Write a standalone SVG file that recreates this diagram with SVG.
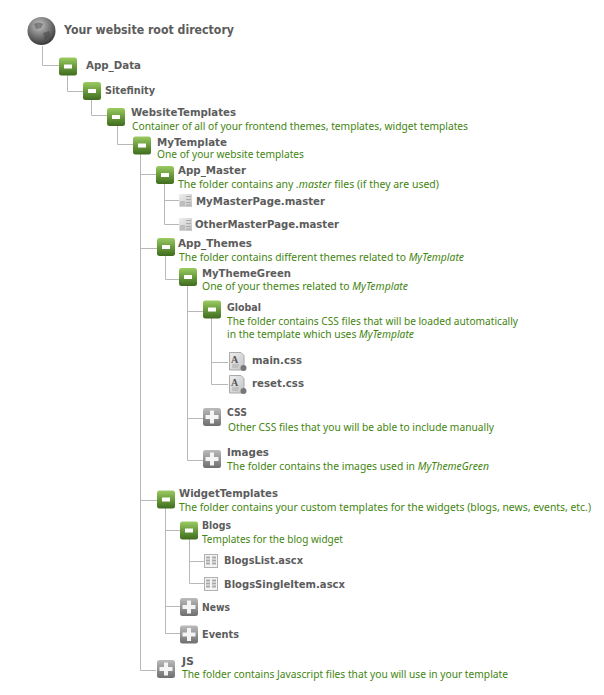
<svg xmlns="http://www.w3.org/2000/svg" width="604" height="695" viewBox="0 0 604 695">
<style>
.l{font-family:"DejaVu Sans","Liberation Sans",sans-serif;font-weight:bold;font-size:10.5px;fill:#5c5c5c}
.d{font-family:"Noto Sans","Liberation Sans",sans-serif;font-size:10px;fill:#438510}
.d tspan{font-style:italic}
#c path{fill:none;stroke:#b8b8b8;stroke-width:1}
</style>
<defs>
<linearGradient id="gg" x1="0" y1="0" x2="0" y2="1"><stop offset="0" stop-color="#9ccb62"/><stop offset=".45" stop-color="#6ea040"/><stop offset="1" stop-color="#3f6c1e"/></linearGradient>
<linearGradient id="gy" x1="0" y1="0" x2="0" y2="1"><stop offset="0" stop-color="#bbb"/><stop offset="1" stop-color="#6e6e6e"/></linearGradient>
<linearGradient id="gm" x1="0" y1="0" x2="1" y2="1"><stop offset="0" stop-color="#eee"/><stop offset="1" stop-color="#c4c4c4"/></linearGradient>
<radialGradient id="gl" cx=".42" cy=".3" r=".78"><stop offset="0" stop-color="#c4c4c4"/><stop offset=".5" stop-color="#777"/><stop offset="1" stop-color="#2a2a2a"/></radialGradient>
<g id="minus"><rect width="18" height="18" rx="2.5" fill="url(#gg)"/><rect x="5" y="7" width="8" height="4" fill="#fff"/></g>
<g id="plus"><rect width="18" height="18" rx="2.500" fill="url(#gy)"/><path d="M7 2.500h4v4.500h4.500v4H11v4.500H7V11H2.500V7H7z" fill="#f4f4f4"/></g>
<g id="master"><rect width="13" height="13" fill="url(#gm)"/><path d="M7 2.500h5M7 5.500h5M7 8.500h5M7 11h5" stroke="#aaa"/><rect x="1" y="7" width="5" height="5" fill="#bdbdbd"/></g>
<g id="ascx"><rect x=".5" y=".5" width="13" height="13" fill="#f4f4f4" stroke="#b0b0b0"/><path d="M2 3.500h4M2 6.500h4M2 9.500h4M8 3.500h4M8 6.500h4M8 9.500h4" stroke="#aaa" stroke-width="2"/></g>
<g id="css"><path d="M1.500.500H13l3 3V18H1.500z" fill="url(#gm)" stroke="#aaa"/><text x="3" y="11" font-family="Liberation Serif,serif" font-size="10" font-weight="bold" fill="#555">A</text><path d="M4 13h7M4 15h6" stroke="#aaa"/><circle cx="15.500" cy="16" r="3" fill="#777"/></g>
</defs>

<g id="c">
<path d="M42.500 46V65.500H59"/>
<path d="M67.500 75V91.500H83"/>
<path d="M91.500 100V115.500H107"/>
<path d="M117.500 126V144.500H133"/>
<path d="M140.500 154V670.500H156M140.500 174.500H156M140.500 248.500H157M140.500 500.500H157"/>
<path d="M164.500 184V224.500H179M164.500 200.500H179"/>
<path d="M165.500 256V279.500H179"/>
<path d="M187.500 286V460.500H203M187.500 311.500H203M187.500 418.500H203"/>
<path d="M211.500 318V384.500H228M211.500 362.500H228"/>
<path d="M165.500 508V633.500H180M165.500 530.500H180M165.500 606.500H180"/>
<path d="M189.500 539V583.500H204M189.500 561.500H204"/>
</g>

<g id="root"><circle cx="41.500" cy="31" r="14" fill="url(#gl)"/><path d="M34 24q5-3 9 0l-2 4-5 1zM43 33l6-2 1 4-5 5z" fill="#444" opacity=".5"/><text class="l" x="64" y="34" textLength="170" lengthAdjust="spacingAndGlyphs" style="font-size:12px">Your website root directory</text></g>
<g id="app-data"><use href="#minus" x="59" y="57.500"/><text class="l" x="86" y="69" textLength="55" lengthAdjust="spacingAndGlyphs">App_Data</text></g>
<g id="sitefinity"><use href="#minus" x="83" y="82"/><text class="l" x="105" y="94" textLength="50" lengthAdjust="spacingAndGlyphs">Sitefinity</text></g>
<g id="websitetemplates"><use href="#minus" x="107" y="108"/><text class="l" x="131" y="116" textLength="105" lengthAdjust="spacingAndGlyphs">WebsiteTemplates</text><text class="d" x="132" y="130" textLength="336" lengthAdjust="spacingAndGlyphs">Container of all of your frontend themes, templates, widget templates</text></g>
<g id="mytemplate"><use href="#minus" x="133" y="136.500"/><text class="l" x="157" y="145.500" textLength="70" lengthAdjust="spacingAndGlyphs">MyTemplate</text><text class="d" x="157" y="158" textLength="147" lengthAdjust="spacingAndGlyphs">One of your website templates</text></g>
<g id="app-master"><use href="#minus" x="156" y="166"/><text class="l" x="178" y="174" textLength="68" lengthAdjust="spacingAndGlyphs">App_Master</text><text class="d" x="178" y="188" textLength="261" lengthAdjust="spacingAndGlyphs">The folder contains any <tspan>.master</tspan> files (if they are used)</text></g>
<g id="mymasterpage"><use href="#master" x="179" y="194"/><text class="l" x="196" y="205" textLength="129" lengthAdjust="spacingAndGlyphs">MyMasterPage.master</text></g>
<g id="othermasterpage"><use href="#master" x="179" y="218"/><text class="l" x="195" y="228" textLength="144" lengthAdjust="spacingAndGlyphs">OtherMasterPage.master</text></g>
<g id="app-themes"><use href="#minus" x="157" y="238"/><text class="l" x="178" y="247" textLength="74" lengthAdjust="spacingAndGlyphs">App_Themes</text><text class="d" x="179" y="261" textLength="285" lengthAdjust="spacingAndGlyphs">The folder contains different themes related to <tspan>MyTemplate</tspan></text></g>
<g id="mythemegreen"><use href="#minus" x="179" y="268"/><text class="l" x="202" y="277" textLength="89" lengthAdjust="spacingAndGlyphs">MyThemeGreen</text><text class="d" x="202" y="290" textLength="206" lengthAdjust="spacingAndGlyphs">One of your themes related to <tspan>MyTemplate</tspan></text></g>
<g id="global"><use href="#minus" x="203" y="300.500"/><text class="l" x="227" y="311" textLength="34" lengthAdjust="spacingAndGlyphs">Global</text><text class="d" x="227" y="325" textLength="291" lengthAdjust="spacingAndGlyphs">The folder contains CSS files that will be loaded automatically</text><text class="d" x="227" y="338" textLength="187" lengthAdjust="spacingAndGlyphs">in the template which uses <tspan>MyTemplate</tspan></text></g>
<g id="main-css"><use href="#css" x="228" y="352"/><text class="l" x="252" y="364" textLength="50" lengthAdjust="spacingAndGlyphs">main.css</text></g>
<g id="reset-css"><use href="#css" x="228" y="375"/><text class="l" x="252" y="387" textLength="52" lengthAdjust="spacingAndGlyphs">reset.css</text></g>
<g id="css-folder"><use href="#plus" x="203" y="408"/><text class="l" x="227" y="416" textLength="20" lengthAdjust="spacingAndGlyphs">CSS</text><text class="d" x="228" y="431" textLength="266" lengthAdjust="spacingAndGlyphs">Other CSS files that you will be able to include manually</text></g>
<g id="images"><use href="#plus" x="203" y="450"/><text class="l" x="227" y="456" textLength="42" lengthAdjust="spacingAndGlyphs">Images</text><text class="d" x="227" y="470" textLength="262" lengthAdjust="spacingAndGlyphs">The folder contains the images used in <tspan>MyThemeGreen</tspan></text></g>
<g id="widgettemplates"><use href="#minus" x="157" y="490.500"/><text class="l" x="179" y="497" textLength="99" lengthAdjust="spacingAndGlyphs">WidgetTemplates</text><text class="d" x="179" y="511" textLength="412" lengthAdjust="spacingAndGlyphs">The folder contains your custom templates for the widgets (blogs, news, events, etc.)</text></g>
<g id="blogs"><use href="#minus" x="180" y="521.500"/><text class="l" x="202" y="529" textLength="29" lengthAdjust="spacingAndGlyphs">Blogs</text><text class="d" x="202" y="543" textLength="141" lengthAdjust="spacingAndGlyphs">Templates for the blog widget</text></g>
<g id="blogslist"><use href="#ascx" x="204" y="554"/><text class="l" x="224" y="564" textLength="79" lengthAdjust="spacingAndGlyphs">BlogsList.ascx</text></g>
<g id="blogssingleitem"><use href="#ascx" x="204" y="577"/><text class="l" x="224" y="588" textLength="121" lengthAdjust="spacingAndGlyphs">BlogsSingleItem.ascx</text></g>
<g id="news"><use href="#plus" x="180" y="598"/><text class="l" x="202" y="611" textLength="28" lengthAdjust="spacingAndGlyphs">News</text></g>
<g id="events"><use href="#plus" x="180" y="625.500"/><text class="l" x="202" y="638" textLength="37" lengthAdjust="spacingAndGlyphs">Events</text></g>
<g id="js"><use href="#plus" x="157" y="660"/><text class="l" x="182" y="665" textLength="12" lengthAdjust="spacingAndGlyphs">JS</text><text class="d" x="182" y="678" textLength="326" lengthAdjust="spacingAndGlyphs">The folder contains Javascript files that you will use in your template</text></g>
</svg>
